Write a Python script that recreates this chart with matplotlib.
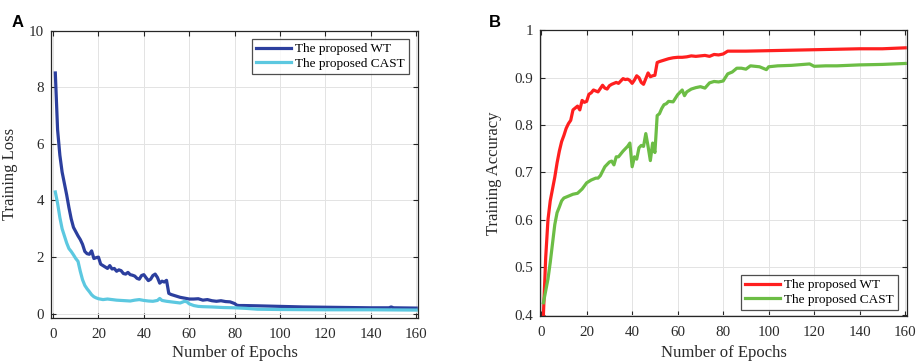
import matplotlib
matplotlib.use("Agg")
import matplotlib.pyplot as plt

# ---------------- data ----------------
loss_wt_epochs = [1, 2, 3, 4, 5, 6, 7, 8, 9, 10, 11, 12, 13, 14, 15, 16, 17, 18, 19, 20,
                  21, 22, 23, 24, 25, 26, 27, 28, 29, 30, 31, 32, 33, 34, 35, 36, 37, 38, 39, 40,
                  41, 42, 43, 44, 45, 46, 47, 48, 49, 50, 51, 52, 54, 56, 58, 60, 62, 64, 66, 68,
                  70, 72, 74, 76, 78, 80, 81, 82, 84, 90, 100, 110, 120, 130, 140, 148, 149, 150, 160]
loss_wt = [8.5, 6.5, 5.6, 5.0, 4.6, 4.2, 3.75, 3.35, 3.05, 2.9, 2.75, 2.62, 2.45, 2.2, 2.12, 2.1, 2.22, 1.95, 1.98, 2.0,
           1.75, 1.7, 1.65, 1.6, 1.7, 1.58, 1.6, 1.5, 1.55, 1.52, 1.42, 1.4, 1.46, 1.38, 1.36, 1.33, 1.25, 1.22, 1.35, 1.38,
           1.27, 1.17, 1.22, 1.35, 1.4, 1.28, 1.08, 1.15, 1.12, 1.18, 0.72, 0.68, 0.63, 0.58, 0.55, 0.52, 0.52, 0.53, 0.48, 0.5,
           0.46, 0.44, 0.46, 0.43, 0.42, 0.36, 0.3, 0.29, 0.29, 0.28, 0.26, 0.24, 0.23, 0.22, 0.21, 0.21, 0.24, 0.21, 0.2]

loss_cast_epochs = [1, 2, 3, 4, 5, 6, 7, 8, 9, 10, 11, 12, 13, 14, 15, 16, 17, 18, 19, 20,
                    22, 24, 26, 28, 30, 32, 34, 36, 38, 40, 42, 44, 46, 47, 48, 50, 52, 54, 56, 58,
                    59, 60, 62, 64, 66, 70, 75, 80, 85, 90, 100, 120, 140, 160]
loss_cast = [4.3, 3.9, 3.4, 3.0, 2.75, 2.5, 2.3, 2.2, 2.08, 1.95, 1.85, 1.5, 1.2, 1.0, 0.88, 0.78, 0.67, 0.6, 0.56, 0.53,
             0.5, 0.52, 0.5, 0.48, 0.47, 0.46, 0.45, 0.48, 0.5, 0.47, 0.45, 0.44, 0.47, 0.54, 0.47, 0.44, 0.42, 0.4, 0.38, 0.44,
             0.42, 0.35, 0.29, 0.26, 0.25, 0.24, 0.22, 0.21, 0.19, 0.16, 0.15, 0.14, 0.14, 0.13]

acc_wt_epochs = [1, 2, 3, 4, 5, 6, 7, 8, 9, 10, 11, 12, 13, 14, 15, 16, 17, 18, 19, 20,
                 21, 22, 23, 24, 25, 26, 27, 28, 29, 30, 31, 32, 33, 34, 35, 36, 37, 38, 39, 40,
                 41, 42, 43, 44, 45, 46, 47, 48, 49, 50, 51, 52, 54, 56, 58, 60, 62, 64, 66, 68,
                 70, 72, 74, 76, 78, 80, 82, 85, 90, 100, 110, 120, 130, 140, 150, 160]
acc_wt = [0.40, 0.52, 0.6, 0.64, 0.665, 0.69, 0.72, 0.745, 0.765, 0.778, 0.793, 0.803, 0.81, 0.832, 0.836, 0.84, 0.832, 0.852, 0.848, 0.85,
          0.865, 0.868, 0.874, 0.872, 0.87, 0.877, 0.884, 0.878, 0.876, 0.883, 0.886, 0.888, 0.89, 0.888, 0.893, 0.898, 0.896, 0.897, 0.894, 0.888,
          0.895, 0.904, 0.9, 0.89, 0.886, 0.898, 0.91, 0.902, 0.904, 0.905, 0.932, 0.934, 0.937, 0.94, 0.942, 0.943, 0.943, 0.944, 0.946, 0.945,
          0.946, 0.947, 0.945, 0.949, 0.948, 0.95, 0.956, 0.956, 0.956, 0.957, 0.958, 0.959, 0.96, 0.961, 0.961, 0.963]

acc_cast_epochs = [1, 2, 3, 4, 5, 6, 7, 8, 9, 10, 12, 14, 16, 18, 20, 22, 24, 25, 26, 28,
                   30, 31, 32, 33, 34, 36, 38, 39, 40, 41, 42, 43, 44, 45, 46, 47, 48, 49, 50, 51,
                   52, 53, 54, 55, 56, 58, 60, 62, 63, 64, 66, 68, 70, 72, 74, 76, 78, 80, 82, 84,
                   86, 88, 90, 92, 96, 99, 100, 104, 110, 118, 120, 125, 130, 135, 140, 150, 160]
acc_cast = [0.425, 0.45, 0.475, 0.51, 0.55, 0.59, 0.615, 0.627, 0.64, 0.646, 0.65, 0.654, 0.656, 0.665, 0.678, 0.684, 0.688, 0.688, 0.693, 0.712,
            0.722, 0.724, 0.716, 0.733, 0.733, 0.745, 0.755, 0.762, 0.712, 0.733, 0.728, 0.752, 0.757, 0.755, 0.782, 0.755, 0.725, 0.762, 0.742, 0.82,
            0.824, 0.835, 0.843, 0.845, 0.85, 0.849, 0.864, 0.874, 0.862, 0.87, 0.876, 0.879, 0.881, 0.878, 0.889, 0.892, 0.891, 0.893, 0.908, 0.912,
            0.92, 0.92, 0.918, 0.925, 0.923, 0.917, 0.923, 0.925, 0.926, 0.929, 0.924, 0.925, 0.925, 0.926, 0.927, 0.928, 0.93]

x_ticks = [0, 20, 40, 60, 80, 100, 120, 140, 160]
loss_ticks = [0, 2, 4, 6, 8, 10]
acc_ticks = [0.4, 0.5, 0.6, 0.7, 0.8, 0.9, 1.0]
acc_tick_labels = ["0.4", "0.5", "0.6", "0.7", "0.8", "0.9", "1"]
legend_labels = ["The proposed WT", "The proposed CAST"]

# ---------------- style ----------------
W, H = 917, 363
fig = plt.figure(figsize=(W / 100, H / 100), dpi=100)
serif = ["Liberation Serif", "DejaVu Serif"]
plt.rcParams["font.family"] = serif

axc = "#262626"
txtc = "#2a2a2a"


def style(ax):
    ax.set_facecolor("white")
    ax.grid(True, color="#e3e3e3", lw=0.7)
    ax.set_axisbelow(True)
    for s in ax.spines.values():
        s.set_color(axc)
        s.set_linewidth(0.9)
    ax.tick_params(direction="in", top=True, right=True, length=3.5, width=0.8,
                   colors=axc, labelsize=10.8)
    ax.tick_params(axis="x", pad=7)
    ax.tick_params(axis="y", pad=5)
    for lab in ax.get_xticklabels() + ax.get_yticklabels():
        lab.set_color(txtc)


# Left panel
ax1 = fig.add_axes([51 / W, 1 - 318 / H, 367 / W, 287.5 / H])
ax1.plot(loss_wt_epochs, loss_wt, color="#2c3f9e", lw=2.3, label=legend_labels[0])
ax1.plot(loss_cast_epochs, loss_cast, color="#5cc8e0", lw=2.3, label=legend_labels[1])
ax1.set_xlim(-0.9, 160.8)
ax1.set_ylim(-0.15, 10)
ax1.set_xticks(x_ticks)
ax1.set_yticks(loss_ticks)
style(ax1)
ax1.set_xlabel("Number of Epochs", fontsize=12, color=txtc)
ax1.set_ylabel("Training Loss", fontsize=12, color=txtc)
ax1.xaxis.set_label_coords(0.5, -0.095)
ax1.yaxis.set_label_coords(-0.09, 0.5)
leg1 = ax1.legend(loc="upper right", bbox_to_anchor=(1 - 9 / 367, 1 - 8.5 / 287.5),
                  borderaxespad=0, fontsize=9.5, frameon=True, fancybox=False,
                  edgecolor="#222222", handlelength=2.7, handletextpad=0.3,
                  borderpad=0.3, labelspacing=0.2)
leg1.get_frame().set_linewidth(0.9)

# Right panel
ax2 = fig.add_axes([540 / W, 1 - 316 / H, 367 / W, 285.7 / H])
ax2.plot(acc_wt_epochs, acc_wt, color="#ff1f1f", lw=2.3, label=legend_labels[0])
ax2.plot(acc_cast_epochs, acc_cast, color="#6cbd45", lw=2.3, label=legend_labels[1])
ax2.set_xlim(-0.5, 160.8)
ax2.set_ylim(0.397, 1.0)
ax2.set_xticks(x_ticks)
ax2.set_yticks(acc_ticks)
ax2.set_yticklabels(acc_tick_labels)
style(ax2)
ax2.set_xlabel("Number of Epochs", fontsize=12, color=txtc)
ax2.set_ylabel("Training Accuracy", fontsize=12, color=txtc)
ax2.xaxis.set_label_coords(0.5, -0.1)
ax2.yaxis.set_label_coords(-0.104, 0.5)
leg2 = ax2.legend(loc="lower right", bbox_to_anchor=(1 - 9 / 367, 6 / 285.7),
                  borderaxespad=0, fontsize=9.5, frameon=True, fancybox=False,
                  edgecolor="#222222", handlelength=2.7, handletextpad=0.3,
                  borderpad=0.3, labelspacing=0.2)
leg2.get_frame().set_linewidth(0.9)

# Panel letters
fig.text(12 / W, 1 - 27 / H, "A", fontsize=12, fontweight="bold",
         family=["Liberation Sans", "DejaVu Sans"], va="baseline", ha="left")
fig.text(489 / W, 1 - 27 / H, "B", fontsize=12, fontweight="bold",
         family=["Liberation Sans", "DejaVu Sans"], va="baseline", ha="left")

fig.savefig("out.png", dpi=100, facecolor="white")
